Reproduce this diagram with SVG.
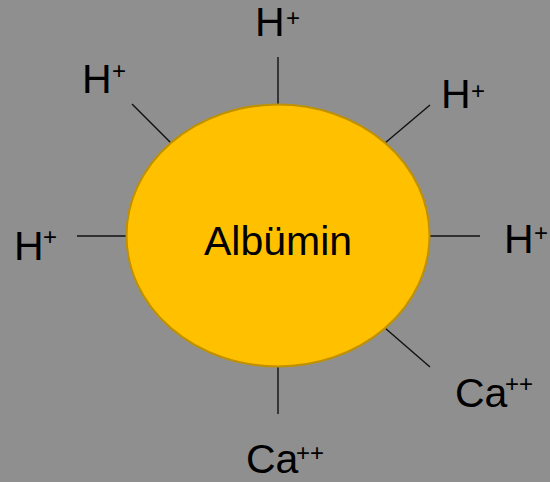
<svg xmlns="http://www.w3.org/2000/svg" width="550" height="482" viewBox="0 0 550 482">
<style>
.lbl{font-family:"Liberation Sans",Arial,sans-serif;font-size:41px;fill:#000}
.sup{font-size:24px}
.ln{stroke:#111;stroke-width:1.4;fill:none}
</style>
<rect width="550" height="482" fill="#8f8f8f"/>
<g id="connectors">
<line class="ln" x1="278" y1="57" x2="278" y2="104"/>
<line class="ln" x1="132" y1="104" x2="171" y2="143"/>
<line class="ln" x1="385" y1="143" x2="430" y2="105"/>
<line class="ln" x1="77" y1="236" x2="126" y2="236"/>
<line class="ln" x1="430" y1="236" x2="480" y2="236"/>
<line class="ln" x1="385" y1="328" x2="430" y2="367"/>
<line class="ln" x1="278" y1="367" x2="278" y2="414"/>
</g>
<g id="albumin">
<ellipse cx="278" cy="235.5" rx="151.5" ry="131" fill="#ffc000" stroke="#bf9000" stroke-width="2"/>
<text class="lbl" x="278" y="255" text-anchor="middle" font-size="42">Albümin</text>
</g>
<g id="h-top"><text class="lbl"><tspan x="255" y="36">H</tspan><tspan class="sup" x="286" y="26">+</tspan></text></g>
<g id="h-upper-left"><text class="lbl"><tspan x="82" y="93">H</tspan><tspan class="sup" x="112" y="79">+</tspan></text></g>
<g id="h-upper-right"><text class="lbl"><tspan x="441" y="108">H</tspan><tspan class="sup" x="471" y="99">+</tspan></text></g>
<g id="h-left"><text class="lbl"><tspan x="14" y="260">H</tspan><tspan class="sup" x="43" y="245">+</tspan></text></g>
<g id="h-right"><text class="lbl"><tspan x="504" y="253">H</tspan><tspan class="sup" x="534" y="241">+</tspan></text></g>
<g id="ca-lower-right"><text class="lbl"><tspan x="455" y="407">Ca</tspan><tspan class="sup" x="505" y="392">++</tspan></text></g>
<g id="ca-bottom"><text class="lbl"><tspan x="246" y="473">Ca</tspan><tspan class="sup" x="296" y="461">++</tspan></text></g>
</svg>
